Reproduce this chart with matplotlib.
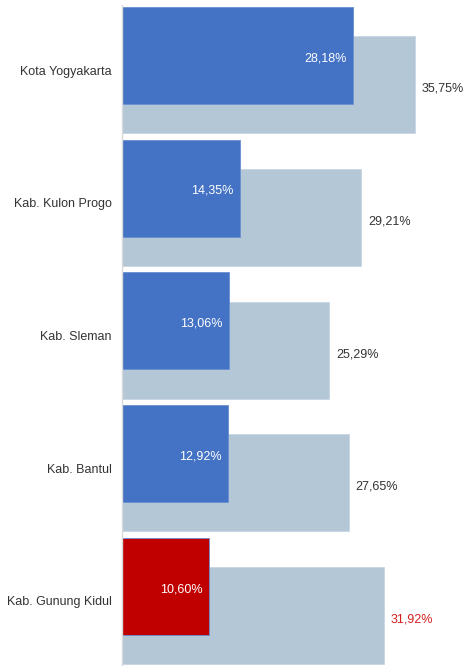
import matplotlib.pyplot as plt

plt.rcParams['font.family'] = ['Liberation Sans', 'DejaVu Sans']

regions = ["Kota Yogyakarta", "Kab. Kulon Progo", "Kab. Sleman", "Kab. Bantul", "Kab. Gunung Kidul"]
front_values = [28.18, 14.35, 13.06, 12.92, 10.60]
back_values = [35.75, 29.21, 25.29, 27.65, 31.92]
front_colors = ["#4472C4", "#4472C4", "#4472C4", "#4472C4", "#C00000"]
back_label_colors = ["#333333", "#333333", "#333333", "#333333", "#D62020"]

def fmt(v):
    return f"{v:.2f}".replace(".", ",") + "%"

fig = plt.figure(figsize=(4.66, 6.66), dpi=100)
ax = fig.add_axes([122.5 / 466, 0.0, 1 - 122.5 / 466, 661 / 666])

height = 0.73
shift = 0.11
pos = list(range(len(regions)))

ax.barh([p + shift for p in pos], back_values, height=height, color="#B4C7D7",
        edgecolor="#C9D6E2", linewidth=0.6, zorder=1)
ax.barh([p - shift for p in pos], front_values, height=height, color=front_colors,
        edgecolor="#6A8FD2", linewidth=0.6, zorder=2)

fs = 9.0
for p, fv, bv, lc in zip(pos, front_values, back_values, back_label_colors):
    ax.text(fv - 0.8, p - shift + 0.02, fmt(fv), ha="right", va="center",
            color="white", fontsize=fs, zorder=3)
    ax.text(bv + 0.85, p + shift + 0.03, fmt(bv), ha="left", va="center",
            color=lc, fontsize=fs, zorder=3)

ax.set_xlim(0, (466 - 122.5) / 8.18)
ax.set_ylim(4.49, -0.49)
ax.set_yticks(pos)
ax.set_yticklabels(regions, fontsize=fs, color="#333333")
ax.tick_params(axis="y", length=0, pad=8)
ax.set_xticks([])
for side in ["top", "right", "bottom"]:
    ax.spines[side].set_visible(False)
ax.spines["left"].set_color("#D9D9D9")
ax.spines["left"].set_linewidth(1.0)

fig.savefig("out.png", dpi=100)
